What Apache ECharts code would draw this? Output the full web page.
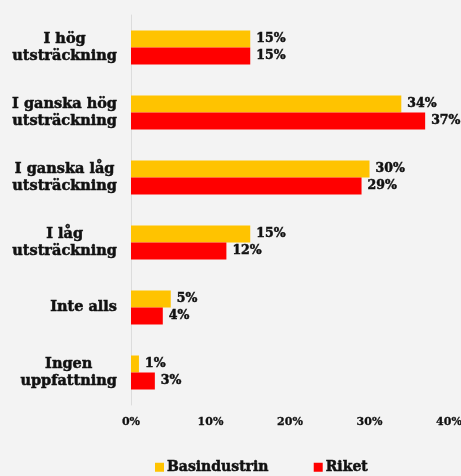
<!DOCTYPE html>
<html>
<head>
<meta charset="utf-8">
<script src="https://cdn.jsdelivr.net/npm/echarts@6/dist/echarts.min.js"></script>
<style>
  html, body { margin: 0; padding: 0; background: #f3f3f3; }
  #chart { width: 461px; height: 476px; }
</style>
</head>
<body>
<div id="chart"></div>
<script>
// Answer categories, top to bottom
const categories = [
  'I hög\nutsträckning',
  'I ganska hög\nutsträckning',
  'I ganska låg\nutsträckning',
  'I låg\nutsträckning',
  'Inte alls',
  'Ingen\nuppfattning'
];
// Share of respondents (%)
const basindustrin = [15, 34, 30, 15, 5, 1];
const riket = [15, 37, 29, 12, 4, 3];
const xTicks = [0, 10, 20, 30, 40];

const FONT = '"DejaVu Serif", serif';
const INK = '#111';
// a hairline stroke in the text colour gives the heavy slab look
const heavy = { textBorderColor: INK, textBorderWidth: 0.5 };

const chart = echarts.init(document.getElementById('chart'));

const labelStyle = Object.assign({
  show: true,
  position: 'right',
  distance: 6,
  formatter: '{c}%',
  color: INK,
  fontFamily: FONT,
  fontWeight: 'bold',
  fontSize: 12.5
}, heavy);

chart.setOption({
  backgroundColor: '#f3f3f3',
  animation: false,
  grid: {
    left: 131, right: 12, top: 15, bottom: 71,
    containLabel: false,
    outerBoundsMode: 'none'
  },
  legend: {
    top: 455,
    left: 150,
    icon: 'rect',
    itemWidth: 9,
    itemHeight: 9,
    itemGap: 45,
    textStyle: Object.assign({ fontFamily: FONT, fontWeight: 'bold', fontSize: 14, color: INK, padding: [0, 0, 0, -2] }, heavy),
    data: ['Basindustrin', 'Riket']
  },
  xAxis: {
    type: 'value',
    min: xTicks[0],
    max: xTicks[xTicks.length - 1],
    interval: 10,
    axisLine: { show: false },
    axisTick: { show: false },
    splitLine: { show: false },
    axisLabel: Object.assign({
      formatter: '{value}%',
      fontFamily: FONT,
      fontWeight: 'bold',
      fontSize: 11,
      color: INK,
      margin: 12
    }, { textBorderColor: INK, textBorderWidth: 0.3 })
  },
  yAxis: {
    type: 'category',
    data: categories,
    inverse: true,
    axisLine: { show: true, lineStyle: { color: '#dcdcdc', width: 1 } },
    axisTick: { show: false },
    axisLabel: {
      align: 'right',
      margin: 14,
      // lines centred within the label block, block right-aligned to the axis
      formatter: v => v.split('\n').map(line => '{c|' + line + '}').join('\n'),
      rich: {
        c: Object.assign({
          align: 'center',
          fontFamily: FONT,
          fontWeight: 'bold',
          fontSize: 14.5,
          lineHeight: 17,
          color: INK
        }, heavy)
      }
    }
  },
  series: [
    {
      name: 'Basindustrin',
      type: 'bar',
      data: basindustrin,
      barWidth: 17,
      barGap: '0%',
      itemStyle: { color: '#ffc300' },
      label: labelStyle
    },
    {
      name: 'Riket',
      type: 'bar',
      data: riket,
      barWidth: 17,
      barGap: '0%',
      itemStyle: { color: '#ff0000' },
      label: labelStyle
    }
  ]
});
</script>
</body>
</html>
